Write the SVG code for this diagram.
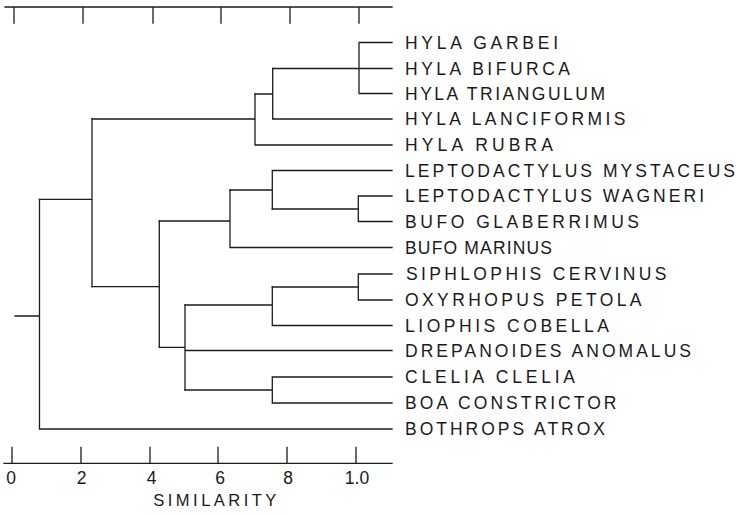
<svg xmlns="http://www.w3.org/2000/svg" width="742" height="515" viewBox="0 0 742 515">
<style>
.ln{fill:none;stroke:#1c1c1c;stroke-width:1.3;stroke-linecap:square}
.lbl{font-family:"Liberation Sans",Arial,sans-serif;font-size:17.5px;fill:#1a1a1a}
.ax{font-family:"Liberation Sans",Arial,sans-serif;font-size:17.5px;fill:#1a1a1a}
</style>
<rect width="742" height="515" fill="#fff"/>
<g id="top-axis" class="ln">
<path d="M5 7H392M14 7V23M83 7V23M153 7V23M221 7V23M290 7V23M359 7V23"/>
</g>
<g id="bottom-axis">
<path class="ln" d="M4 463.3H392M12 447.5V463.3M81 447.5V463.3M150 447.5V463.3M218 447.5V463.3M287 447.5V463.3M356 447.5V463.3"/>
<g class="ax" text-anchor="middle">
<text x="11" y="484">0</text>
<text x="81.7" y="484">2</text>
<text x="151.7" y="484">4</text>
<text x="220" y="484">6</text>
<text x="288" y="484">8</text>
<text x="357" y="484">1.0</text>
</g>
<text class="ax" x="153.3" y="505.5" textLength="123" lengthAdjust="spacing" style="font-size:16.5px">SIMILARITY</text>
</g>
<g id="connectors" class="ln">
<path d="M359 42.5V93.5M359 42.5H392M272.7 68.5H392M359 93.5H392"/>
<path d="M272.7 68.5V119M272.7 119H392M255 94H272.7"/>
<path d="M255 94V145M255 145H392M92 119H255"/>
<path d="M92 119V286.7M39.5 199.3H92"/>
<path d="M39.5 199.3V429M39.5 429H392M15 316H39.5"/>
<path d="M358.3 196V221.5M358.3 196H392M358.3 221.5H392M272.3 209H358.3"/>
<path d="M272.3 170.5V209M272.3 170.5H392M230 190H272.3"/>
<path d="M230 190V247.5M230 247.5H392M159.3 221H230"/>
<path d="M159.3 221V347.3M92 286.7H159.3"/>
<path d="M358.3 274V300M358.3 274H392M358.3 300H392M272.3 287H358.3"/>
<path d="M272.3 287V325.5M272.3 325.5H392M185 305H272.3"/>
<path d="M272.3 377V403M272.3 377H392M272.3 403H392M185 390H272.3"/>
<path d="M185 305V390M185 350.5H392M159.3 347.3H185"/>
</g>
<g class="lbl">
<g id="hyla-garbei"><text x="405" y="48.7" textLength="153" lengthAdjust="spacing">HYLA GARBEI</text></g>
<g id="hyla-bifurca"><text x="405" y="74.7" textLength="165" lengthAdjust="spacing">HYLA BIFURCA</text></g>
<g id="hyla-triangulum"><text x="405" y="99.7" textLength="200" lengthAdjust="spacing">HYLA TRIANGULUM</text></g>
<g id="hyla-lanciformis"><text x="405" y="125.2" textLength="220.5" lengthAdjust="spacing">HYLA LANCIFORMIS</text></g>
<g id="hyla-rubra"><text x="405" y="151.2" textLength="148" lengthAdjust="spacing">HYLA RUBRA</text></g>
<g id="leptodactylus-mystaceus"><text x="405" y="176.7" textLength="330" lengthAdjust="spacing">LEPTODACTYLUS MYSTACEUS</text></g>
<g id="leptodactylus-wagneri"><text x="405" y="202.2" textLength="299" lengthAdjust="spacing">LEPTODACTYLUS WAGNERI</text></g>
<g id="bufo-glaberrimus"><text x="405" y="227.7" textLength="234" lengthAdjust="spacing">BUFO GLABERRIMUS</text></g>
<g id="bufo-marinus"><text x="405" y="253.7" textLength="147" lengthAdjust="spacing">BUFO MARINUS</text></g>
<g id="siphlophis-cervinus"><text x="406" y="280.2" textLength="260.5" lengthAdjust="spacing">SIPHLOPHIS CERVINUS</text></g>
<g id="oxyrhopus-petola"><text x="405" y="306.2" textLength="236.5" lengthAdjust="spacing">OXYRHOPUS PETOLA</text></g>
<g id="liophis-cobella"><text x="405" y="331.7" textLength="204" lengthAdjust="spacing">LIOPHIS COBELLA</text></g>
<g id="drepanoides-anomalus"><text x="405" y="356.7" textLength="286" lengthAdjust="spacing">DREPANOIDES ANOMALUS</text></g>
<g id="clelia-clelia"><text x="405" y="383.2" textLength="170" lengthAdjust="spacing">CLELIA CLELIA</text></g>
<g id="boa-constrictor"><text x="405" y="409.2" textLength="211.5" lengthAdjust="spacing">BOA CONSTRICTOR</text></g>
<g id="bothrops-atrox"><text x="405" y="435.2" textLength="200" lengthAdjust="spacing">BOTHROPS ATROX</text></g>
</g>
</svg>
